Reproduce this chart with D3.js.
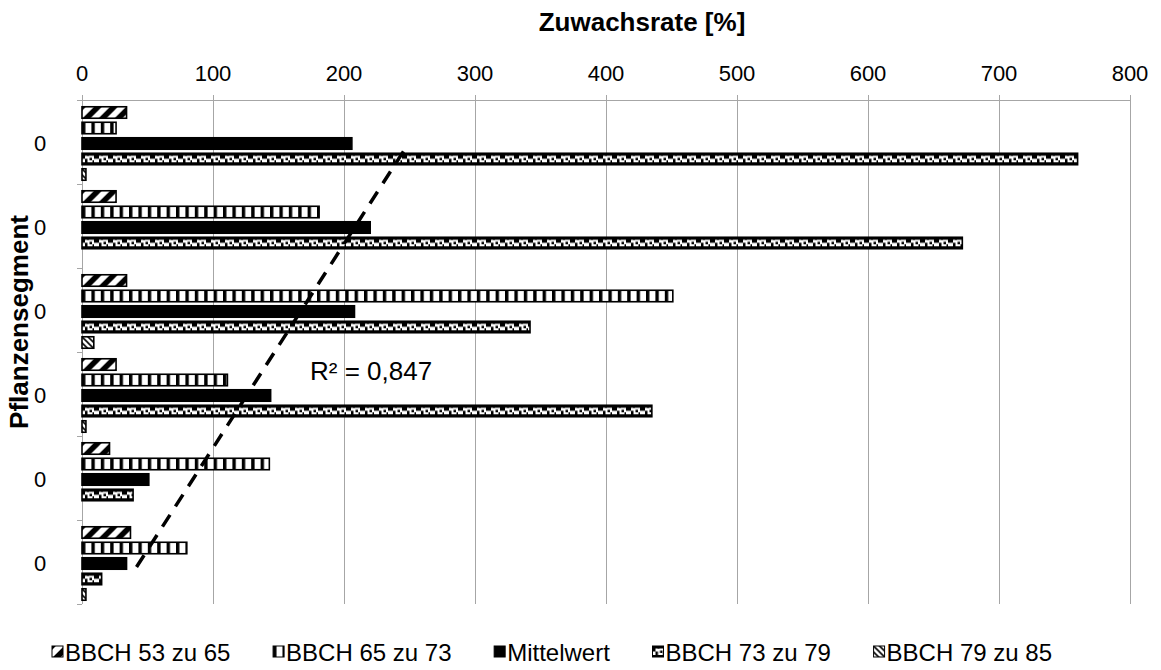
<!DOCTYPE html>
<html>
<head>
<meta charset="utf-8">
<script src="https://cdn.jsdelivr.net/npm/d3@7/dist/d3.min.js"></script>
<style>
  html, body { margin: 0; padding: 0; background: #fff; }
  svg text { font-family: "Liberation Sans", Arial, sans-serif; fill: #000; }
</style>
</head>
<body>
<svg id="chart" width="1161" height="670"></svg>
<script>
// ---- data (top group first) ----
const categories = ["0", "0", "0", "0", "0", "0"];
const seriesNames = ["BBCH 53 zu 65", "BBCH 65 zu 73", "Mittelwert", "BBCH 73 zu 79", "BBCH 79 zu 85"];
const bbch53zu65 = [34, 26, 34, 26, 21, 37];
const bbch65zu73 = [26, 181, 451, 111, 143, 80];
const mittelwert = [206, 220, 208, 144, 51, 34];
const bbch73zu79 = [760, 672, 342, 435, 39, 15];
const bbch79zu85 = [3, 0, 9, 3, 0, 3];
const xTicks = [0, 100, 200, 300, 400, 500, 600, 700, 800];
const xTitle = "Zuwachsrate [%]";
const yTitle = "Pflanzensegment";
const r2Label = "R² = 0,847";

const seriesValues = [bbch53zu65, bbch65zu73, mittelwert, bbch73zu79, bbch79zu85];
const patternIds = ["p1", "p2", "p3", "p4", "p5"];

const svg = d3.select("#chart");
const x = d3.scaleLinear().domain([0, 800]).range([82, 1130]);
const y = d3.scaleBand().domain(d3.range(categories.length)).range([100, 604]).padding(0);
const ys = d3.scaleBand().domain(d3.range(seriesNames.length)).range([0, y.bandwidth()])
  .paddingInner(0.26).paddingOuter(0.34);
const barShift = 1.5;

// ---- patterns ----
const defs = svg.append("defs");
// wide upward diagonal
const p1 = defs.append("pattern").attr("id", "p1").attr("patternUnits", "userSpaceOnUse")
  .attr("width", 16).attr("height", 16);
p1.append("rect").attr("width", 16).attr("height", 16).attr("fill", "#fff");
p1.append("path").attr("d", "M-4,4 L4,-4 M0,16 L16,0 M12,20 L20,12")
  .attr("stroke", "#000").attr("stroke-width", 5.5);
// vertical stripes
const p2 = defs.append("pattern").attr("id", "p2").attr("patternUnits", "userSpaceOnUse")
  .attr("width", 9.4).attr("height", 40);
p2.append("rect").attr("width", 9.4).attr("height", 40).attr("fill", "#fff");
p2.append("rect").attr("x", 0).attr("width", 3.4).attr("height", 40).attr("fill", "#000");
// solid
const p3 = defs.append("pattern").attr("id", "p3").attr("patternUnits", "userSpaceOnUse")
  .attr("width", 8).attr("height", 8);
p3.append("rect").attr("width", 8).attr("height", 8).attr("fill", "#000");
// small checker
const p4 = defs.append("pattern").attr("id", "p4").attr("patternUnits", "userSpaceOnUse")
  .attr("width", 14).attr("height", 40);
p4.append("rect").attr("width", 14).attr("height", 40).attr("fill", "#fff");
[[0, 0, 14, 2.5], [0, 9, 14, 4], [0, 2, 3, 3.5], [3, 5.5, 2.5, 3.5], [7.5, 4.5, 2.5, 2.5],
 [12, 2, 2, 3.5], [5.5, 2, 1, 1], [10.5, 7, 1.5, 2]]
  .forEach(r => p4.append("rect").attr("x", r[0]).attr("y", r[1]).attr("width", r[2]).attr("height", r[3]).attr("fill", "#000"));
// downward diagonal
const p5 = defs.append("pattern").attr("id", "p5").attr("patternUnits", "userSpaceOnUse")
  .attr("width", 6).attr("height", 6);
p5.append("rect").attr("width", 6).attr("height", 6).attr("fill", "#fff");
p5.append("path").attr("d", "M0,0 L6,6 M-3,3 L3,9 M3,-3 L9,3")
  .attr("stroke", "#000").attr("stroke-width", 1.6);

// ---- gridlines ----
svg.append("g").selectAll("line").data(xTicks).join("line")
  .attr("x1", d => x(d)).attr("x2", d => x(d))
  .attr("y1", 95).attr("y2", 604)
  .attr("stroke", "#a6a6a6").attr("stroke-width", 1).attr("shape-rendering", "crispEdges");

// top axis line
svg.append("line").attr("x1", x(0) - 5).attr("x2", x(800)).attr("y1", 100).attr("y2", 100)
  .attr("stroke", "#a6a6a6").attr("shape-rendering", "crispEdges");

// top tick labels
svg.append("g").selectAll("text").data(xTicks).join("text")
  .attr("x", d => x(d)).attr("y", 81)
  .attr("text-anchor", "middle").attr("font-size", 22)
  .text(d => d);

// left axis
const yAxisG = svg.append("g");
yAxisG.append("line").attr("x1", x(0)).attr("x2", x(0)).attr("y1", 100).attr("y2", 604)
  .attr("stroke", "#a6a6a6").attr("shape-rendering", "crispEdges");
const bounds = d3.range(categories.length + 1).map(i => i < categories.length ? y(i) : y(categories.length - 1) + y.bandwidth());
yAxisG.selectAll(".tk").data(bounds).join("line").attr("class", "tk")
  .attr("x1", x(0) - 5).attr("x2", x(0)).attr("y1", d => d).attr("y2", d => d)
  .attr("stroke", "#a6a6a6").attr("shape-rendering", "crispEdges");
yAxisG.selectAll("text").data(categories).join("text")
  .attr("x", 40).attr("y", (d, i) => y(i) + y.bandwidth() / 2 + 9)
  .attr("text-anchor", "middle").attr("font-size", 22)
  .text(d => d);

// ---- bars ----
seriesValues.forEach((vals, s) => {
  svg.append("g").selectAll("g").data(vals).join("g")
    .attr("transform", (d, i) => `translate(${x(0)},${y(i) + ys(s) + barShift})`)
    .each(function (d) {
      if (d <= 0) return;
      d3.select(this).append("rect")
        .attr("x", 0).attr("y", 0)
        .attr("width", x(d) - x(0)).attr("height", ys.bandwidth())
        .attr("fill", `url(#${patternIds[s]})`)
        .attr("stroke", "#000").attr("stroke-width", 1.6);
    });
});

// ---- trendline (linear regression of Mittelwert over category index, bottom = 1) ----
const n = mittelwert.length;
const pts = mittelwert.map((v, i) => ({ k: n - i, v: v }));
const mk = d3.mean(pts, p => p.k), mv = d3.mean(pts, p => p.v);
const slope = d3.sum(pts, p => (p.k - mk) * (p.v - mv)) / d3.sum(pts, p => (p.k - mk) ** 2);
const icpt = mv - slope * mk;
const yMid = i => y(i) + y.bandwidth() / 2;
svg.append("line")
  .attr("x1", x(icpt + slope * 1)).attr("y1", yMid(n - 1) + 5)
  .attr("x2", x(icpt + slope * n)).attr("y2", yMid(0) + 8)
  .attr("stroke", "#000").attr("stroke-width", 3.5)
  .attr("stroke-dasharray", "14,10");

svg.append("text").attr("x", 310).attr("y", 380).attr("font-size", 26).text(r2Label);

// ---- titles ----
svg.append("text").attr("x", 642).attr("y", 31).attr("text-anchor", "middle")
  .attr("font-size", 26).attr("font-weight", "bold").text(xTitle);
svg.append("text").attr("transform", "translate(28,322) rotate(-90)").attr("text-anchor", "middle")
  .attr("font-size", 26).attr("font-weight", "bold").text(yTitle);

// ---- legend ----
const leg = svg.append("g");
const items = leg.selectAll("g").data(seriesNames).join("g");
items.append("g").attr("transform", "translate(0,-15)")
  .append("rect").attr("width", 11).attr("height", 11)
  .attr("fill", (d, i) => `url(#${patternIds[i]})`).attr("stroke", "#000").attr("stroke-width", 1);
items.append("text").attr("x", 13).attr("y", 0).attr("font-size", 24).text(d => d);
const widths = [];
items.each(function () { widths.push(this.querySelector("text").getComputedTextLength() + 13); });
const legStart = 52, legEnd = 1052;
const gap = (legEnd - legStart - d3.sum(widths)) / (widths.length - 1);
let cx = legStart;
items.each(function (d, i) {
  d3.select(this).attr("transform", `translate(${cx},661)`);
  cx += widths[i] + gap;
});
</script>
</body>
</html>
